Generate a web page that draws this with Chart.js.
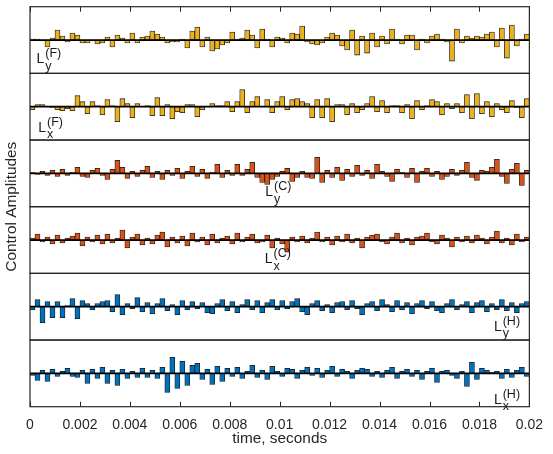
<!DOCTYPE html>
<html>
<head>
<meta charset="utf-8">
<script src="https://cdn.jsdelivr.net/npm/chart.js@4.4.1/dist/chart.umd.min.js"></script>
<style>
  html, body { margin: 0; padding: 0; background: #fff; }
  canvas { display: block; }
</style>
</head>
<body>
<canvas id="myChart" width="553" height="454"></canvas>
<script>
// control amplitudes, one value per time bin (arbitrary units)
const lyF = [1, 1, -1, -7, 2, 10, 4, -2, 7, 5, -3, -3, -1, -4, -3, 3, -7, 5, 2, -3, 7, -3, 3, 4, 9, 6, 3, -3, -2, -2,
  1, -8, 9, 13, -7, 3, -11, -9, -5, -3, 8, 1, 2, 10, 5, -8, 11, 1, -7, 3, 2, -3, 7, 6, 14, -2, -4, -5, -3, 3, 7, 5, -6, -10, 10, -15,
  4, -13, 7, -7, 4, -4, 11, 1, -4, 5, 5, -10, 1, -3, 4, 6, 1, -2, -21, 11, -3, 4, 2, 4, 3, 6, 8, -7, 12, -18, 15, -6, 1, 6];
const lxF = [-3, 2, 2, 0, -1, -3, -4, -2, -4, 11, 5, -7, 5, 1, -8, 7, 1, -15, 8, 3, -11, 3, 0, 1, -9, 9, -9, 2, -12, -5,
  -6, 2, 2, -10, -3, 0, 3, 1, 1, 5, -5, 5, 17, -6, 5, 10, 0, 7, -6, 5, 10, -3, 7, 8, 5, 3, -11, 7, -11, 8, -15, 2, 2, -8, 3, -6,
  -3, 3, 10, -5, 6, -6, 1, 1, -6, 2, -12, 6, -3, 1, 7, 5, -8, 3, -2, 3, -6, 12, -12, 13, -7, 5, -10, 3, -3, -6, 6, -1, -11, 8];
const lyC = [1, -1, 2, -2, 3, -3, 4, -2, 1, 6, -3, -4, 3, 5, -2, -6, 4, 13, 6, -5, 2, -3, 3, 7, -4, 2, -6, 3, -2, 5,
  -5, 2, 7, -3, 4, -5, 1, 9, -4, 3, -2,
  9, -2, 4, 11, -4, -9, -11, -6, -3, 2, 5, -8, -4, 2, -4, -5, 16, -9,
  3, -4, 6, -7, 4, -3, 8, -2, 3, -5, 9, 2, -3, -8, 4, 1, -4, 5, -9, 2, 5, -3, 2, -6, -3, 4, -2, 3, 11, -4, -7, 3, 2, 6, 14, -3, -10, 4, 10, -12, 3];
const lxC = [2, 6, -2, 3, -4, 5, -3, 2, 4, 7, -6, 3, -2, 5, -4, 6, -3, 2, 10, -8, 3, 6, -5, 2, -4, 5, 8, -7, 3, -3,
  4, -6, 7, -2, 3, -5, 6, -3, 2, 4, -4, 7, -2, 3, 6, -3, -2, 5, -8, 2, -4, -12, 3, -2, 4, -3, 2, 8, -2, 3,
  -5, 4, -2, 6, -3, 2, -8, 3, 5, 6, -2, -4, 3, 7, -3, 2, -5, 3, 4, 7, -2, -4, 5, 2, -7, 3, -2, 4, -3, 5, 2, -4, 3, 9, -3, 2, -5, 6, -2, 3];
const lyH = [-3, 7, -16, 5, -11, 5, -11, 1, 8, -12, 6, 3, -3, 3, 5, 6, -5, 12, -8, 3, -2, 9, -5, 4, -7, 3, 8, -4, 2, -8,
  6, -3, 5, -2, 4, -6, -7, 3, 7, -4, 5, -6, 2, 7, -3, 6, -6, 4, 7, -3, 6, -2, 5, 8, -5, -8, 3, 6, -4, 2,
  -6, 4, 5, -3, 6, -2, -8, 3, 5, -4, 7, 2, -5, 6, -3, 4, -7, 3, 6, -2, 5, -4, -6, 3, 7, -3, 2, 5, -6, 4, 6, -5, 3, -3, 7, -4, 4, -6, 3, 5];
const lxH = [-2, -7, 3, -8, 4, -3, 2, 5, -3, -4, 3, -10, 4, -5, 6, -10, 3, -12, 4, -5, 2, -4, 5, -4, 3, -5, 6, -19, 16, -15,
  12, -12, 8, 10, -6, 4, -11, 7, -8, 5, -3, 6, -5, 2, 8, -4, 3, -6, 7, 2, -3, 5, 4, -5, 3, 6, -2, 5, -4, 3,
  7, -3, 4, 2, -5, 3, 5, 4, -3, 2, -4, 3, 6, -5, 2, 4, -3, 3, -6, 2, 5, -9, 2, 3, -2, -5, 2, -13, 11, -6, 5, 3, 1, 2, -5, 4, -4, 3, 6, -3];

const timeStep = 0.0002; // seconds per bin
const times = lyF.map((_, i) => (i + 0.5) * timeStep);

const tickValues = [0, 0.002, 0.004, 0.006, 0.008, 0.01, 0.012, 0.014, 0.016, 0.018, 0.02];
const tickLabels = ['0', '0.002', '0.004', '0.006', '0.008', '0.01', '0.012', '0.014', '0.016', '0.018', '0.02'];

const panelSeries = [lyF, lxF, lyC, lxC, lyH, lxH];
const panelSub = ['y', 'x', 'y', 'x', 'y', 'x'];
const panelSup = ['(F)', '(F)', '(C)', '(C)', '(H)', '(H)'];
const panelColors = ['#EDB120', '#EDB120', '#D95319', '#D95319', '#0072BD', '#0072BD'];
// where each "L" label sits, in (seconds, amplitude) of its own panel
const labelAt = [[0.00026, -23], [0.00033, -25], [0.00942, -23], [0.0094, -23], [0.01858, -24], [0.01858, -30.5]];

const FONT = '"Liberation Sans", Arial, Helvetica, sans-serif';
const TEXT = '#262626';

const scales = {
    x: {
        type: 'linear', min: 0, max: 0.02, offset: false,
        afterBuildTicks: s => { s.ticks = tickValues.map(v => ({ value: v })); },
        ticks: {
            callback: (v, i) => tickLabels[i],
            color: TEXT, font: { family: FONT, size: 14 },
            padding: 10, maxRotation: 0, autoSkip: false
        },
        grid: { display: false, drawTicks: false, offset: false },
        border: { display: false },
        afterFit: s => { s.height = 47.3; }
    }
};
panelSeries.forEach((_, k) => {
    scales['y' + k] = {
        type: 'linear', min: -33.3, max: 33.3,
        position: 'left', stack: 'panels', stackWeight: 1, weight: 6 - k,
        ticks: { display: false },
        grid: { display: false, drawTicks: false },
        border: { display: false }
    };
});

function line(ctx, x1, y1, x2, y2) {
    ctx.beginPath();
    ctx.moveTo(x1, y1);
    ctx.lineTo(x2, y2);
    ctx.stroke();
}

const framePlugin = {
    id: 'frames',
    afterDatasetsDraw(chart) {
        const { ctx, chartArea: a, scales: sc } = chart;
        ctx.save();
        panelSeries.forEach((_, k) => {
            const s = sc['y' + k];
            const z = s.getPixelForValue(0);
            ctx.strokeStyle = '#000';
            ctx.lineWidth = 1.8;
            line(ctx, a.left, z, a.right, z);
            ctx.strokeStyle = TEXT;
            ctx.lineWidth = 1.2;
            ctx.strokeRect(a.left, s.top, a.right - a.left, s.bottom - s.top);
        });

        // tick marks, inside the box, top and bottom
        ctx.lineWidth = 1;
        tickValues.forEach(v => {
            const px = Math.round(sc.x.getPixelForValue(v)) + 0.5;
            line(ctx, px, a.top, px, a.top + 5);
            line(ctx, px, a.bottom, px, a.bottom - 5);
        });

        // L labels
        ctx.fillStyle = '#1a1a1a';
        ctx.textBaseline = 'alphabetic';
        ctx.textAlign = 'left';
        panelSeries.forEach((_, k) => {
            const s = sc['y' + k];
            const px = sc.x.getPixelForValue(labelAt[k][0]);
            const py = s.getPixelForValue(labelAt[k][1]);
            ctx.font = '14px ' + FONT;
            ctx.fillText('L', px, py);
            const w = ctx.measureText('L').width;
            ctx.font = '12.5px ' + FONT;
            ctx.fillText(panelSup[k], px + w + 1, py - 6);
            ctx.fillText(panelSub[k], px + w + 1, py + 6.5);
        });

        // axis titles
        ctx.fillStyle = TEXT;
        ctx.font = '15.4px ' + FONT;
        ctx.textAlign = 'center';
        ctx.fillText('time, seconds', (a.left + a.right) / 2, 443);
        ctx.translate(15.5, (a.top + a.bottom) / 2);
        ctx.rotate(-Math.PI / 2);
        ctx.fillText('Control Amplitudes', 0, 0);
        ctx.restore();
    }
};

new Chart('myChart', {
    type: 'bar',
    data: {
        datasets: panelSeries.map((vals, k) => ({
            data: vals.map((v, i) => ({ x: times[i], y: v })),
            yAxisID: 'y' + k,
            backgroundColor: panelColors[k],
            borderColor: '#1a1a1a',
            borderWidth: 0.8,
            borderSkipped: false,
            barPercentage: 1,
            categoryPercentage: 1,
            grouped: false
        }))
    },
    options: {
        responsive: false,
        animation: false,
        layout: { padding: { left: 30, right: 17.3, top: 6.7, bottom: 0 } },
        plugins: { legend: { display: false }, tooltip: { enabled: false } },
        scales: scales
    },
    plugins: [framePlugin]
});
</script>
</body>
</html>
